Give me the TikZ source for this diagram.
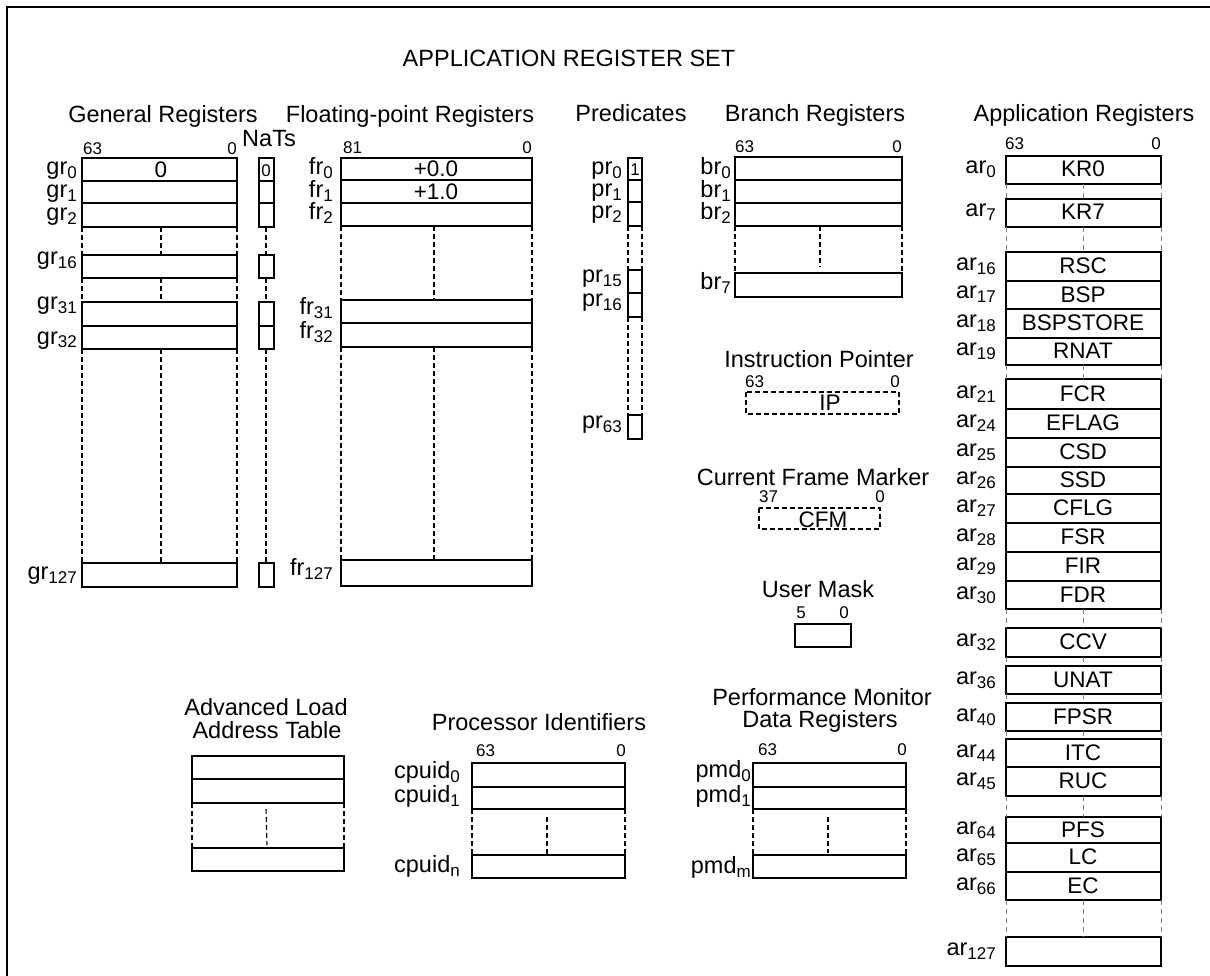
\documentclass[tikz,border=0pt]{standalone}
\usepackage{fontspec}
\setmainfont{Liberation Sans}
\newcommand\hdf{\fontsize{23.5}{25}\selectfont}
\newcommand\cf{\fontsize{22.5}{24}\selectfont}
\newcommand\smf{\fontsize{17}{18}\selectfont}
\newcommand\rg[2]{#1\raisebox{-4pt}{\smf #2}}
\begin{document}
\begin{tikzpicture}[x=1pt,y=-1pt,
  reg/.style={draw,line width=1.1pt},
  thk/.style={line width=2.2pt},
  dsh/.style={line width=1.1pt,dash pattern=on 5pt off 3pt},
  adsh/.style={line width=0.8pt,gray,dash pattern=on 5pt off 4pt},
  hd/.style={font=\hdf,anchor=base,inner sep=0pt},
  lbl/.style={font=\hdf,anchor=base east,inner sep=0pt},
  cnt/.style={font=\cf,anchor=base,inner sep=0pt},
  sm/.style={font=\smf,anchor=base,inner sep=0pt},
  bitl/.style={font=\smf,anchor=base west,inner sep=0pt},
  bitr/.style={font=\smf,anchor=base east,inner sep=0pt}]
\useasboundingbox (0,0) rectangle (1210,976);
\draw[line width=1.1pt] (7,976) -- (7,7) -- (1210,7);
\node[hd] (title) at (569,67) {APPLICATION REGISTER SET};

% ---------------- General registers
\node[hd] (tGR) at (163,123) {General Registers};
\node[hd] (tNaT) at (269,147) {NaTs};
\node[bitl] (gr63) at (83,155) {63};
\node[bitr] (gr00) at (237,155) {0};
\foreach \t/\b/\s/\yb in {158/181/0/175, 181/203/1/198, 203/227/2/221, 255/278/16/265, 302/326/31/309, 326/349/32/344, 563/587/127/579} {
  \draw[reg] (82,\t) rectangle (237,\b);
  \draw[reg] (259,\t) rectangle (274,\b);
  \node[lbl] (gr\s) at (77,\yb) {\rg{gr}{\s}};
}
\draw[thk] (82,326) -- (237,326);
\node[cnt] (gr0v) at (161,178) {0};
\node[sm] (nat0v) at (266,177) {0};
\foreach \x in {82,161,237,266} {
  \draw[dsh] (\x,227) -- (\x,255);
  \draw[dsh] (\x,278) -- (\x,302);
  \draw[dsh] (\x,349) -- (\x,563);
}

% ---------------- Floating-point registers
\node[hd] (tFR) at (410,123) {Floating-point Registers};
\node[bitl] (fr81) at (343,154) {81};
\node[bitr] (fr00) at (532,154) {0};
\foreach \t/\b/\s/\yb in {158/180/0/175, 180/203/1/198, 203/226/2/220, 300/323/31/315, 323/347/32/338, 560/586/127/575} {
  \draw[reg] (341,\t) rectangle (532,\b);
  \node[lbl] (fr\s) at (333,\yb) {\rg{fr}{\s}};
}
\node[cnt] (fr0v) at (436,177) {+0.0};
\node[cnt] (fr1v) at (436,200) {+1.0};
\foreach \x in {341,434,532} {
  \draw[dsh] (\x,226) -- (\x,300);
  \draw[dsh] (\x,347) -- (\x,560);
}

% ---------------- Predicates
\node[hd] (tPR) at (631,122) {Predicates};
\foreach \t/\b/\s/\yb in {158/180/0/175, 180/202/1/197, 202/226/2/219, 270/293/15/283, 293/317/16/307, 415/439/63/428} {
  \draw[reg] (628,\t) rectangle (642,\b);
  \node[lbl] (pr\s) at (622,\yb) {\rg{pr}{\s}};
}
\draw[thk] (628,293) -- (642,293);
\node[sm] (pr0v) at (635,176) {1};
\foreach \x in {628,642} {
  \draw[dsh] (\x,226) -- (\x,270);
  \draw[dsh] (\x,317) -- (\x,415);
}

% ---------------- Branch registers
\node[hd] (tBR) at (815,122) {Branch Registers};
\node[bitl] (br63) at (735,153) {63};
\node[bitr] (br00) at (902,153) {0};
\foreach \t/\b/\s/\yb in {157/180/0/175, 180/203/1/198, 203/226/2/220, 273/297/7/290} {
  \draw[reg] (735,\t) rectangle (902,\b);
  \node[lbl] (br\s) at (731,\yb) {\rg{br}{\s}};
}
\draw[dsh] (735,226) -- (735,273);
\draw[dsh] (902,226) -- (902,273);
\draw[dsh] (820,226) -- (820,267);

% ---------------- Instruction pointer, CFM, user mask
\node[hd] (tIP) at (819,367) {Instruction Pointer};
\node[bitl] (ip63) at (745,387) {63};
\node[bitr] (ip00) at (900,387) {0};
\draw[dsh] (746,392) rectangle (899,414);
\node[cnt] (ipv) at (830,410) {IP};

\node[hd] (tCFM) at (813,485) {Current Frame Marker};
\node[bitl] (cfm37) at (759,502) {37};
\node[bitr] (cfm00) at (885,502) {0};
\draw[dsh] (759,508) rectangle (880,529);
\node[cnt] (cfmv) at (823,527) {CFM};

\node[hd] (tUM) at (818,597) {User Mask};
\node[sm] (um5) at (801,618) {5};
\node[sm] (um0) at (844,618) {0};
\draw[reg] (795,624) rectangle (851,647);

% ---------------- Application registers
\node[hd] (tAR) at (1084,122) {Application Registers};
\node[bitl] (ar63) at (1005,150) {63};
\node[bitr] (ar00) at (1161,150) {0};
\foreach \t/\b/\s/\c in {156/184/0/KR0, 199/227/7/KR7, 252/281/16/RSC, 281/309/17/BSP, 309/338/18/BSPSTORE, 338/365/19/RNAT, 379/409/21/FCR, 409/438/24/EFLAG, 438/467/25/CSD, 467/494/26/SSD, 494/523/27/CFLG, 523/552/28/FSR, 552/581/29/FIR, 581/609/30/FDR, 628/657/32/CCV, 666/694/36/UNAT, 703/731/40/FPSR, 739/767/44/ITC, 767/796/45/RUC, 817/843/64/PFS, 843/872/65/LC, 872/900/66/EC, 937/966/127/} {
  \draw[reg] (1006,\t) rectangle (1161,\b);
  \node[lbl] (ar\s) at (996,{(\t+\b)/2+4}) {\rg{ar}{\s}};
  \node[cnt] (arv\s) at (1083,{(\t+\b)/2+7}) {\c};
}
\draw[thk] (1006,409) -- (1161,409);
\foreach \a/\b in {184/199, 227/252, 365/379, 609/628, 657/666, 694/703, 731/739, 796/817, 900/937} {
  \foreach \x in {1006,1083,1161} {
    \draw[adsh] (\x,\a) -- (\x,\b);
  }
}

% ---------------- ALAT
\node[hd] (tAL1) at (266,715) {Advanced Load};
\node[hd] (tAL2) at (267,738) {Address Table};
\foreach \t/\b in {756/779, 779/803, 848/871} {
  \draw[reg] (192,\t) rectangle (344,\b);
}
\draw[dsh] (192,803) -- (192,848);
\draw[dsh] (344,803) -- (344,848);
\draw[dsh] (266,809) -- (267,845);

% ---------------- Processor identifiers
\node[hd] (tPI) at (539,730) {Processor Identifiers};
\node[bitl] (cp63) at (476,756) {63};
\node[bitr] (cp00) at (626,756) {0};
\foreach \t/\b/\s/\yb in {763/787/0/778, 787/809/1/802, 855/878/n/872} {
  \draw[reg] (472,\t) rectangle (625,\b);
  \node[lbl] (cpuid\s) at (460,\yb) {\rg{cpuid}{\s}};
}
\draw[dsh] (472,809) -- (472,855);
\draw[dsh] (625,809) -- (625,855);
\draw[dsh] (547,817) -- (547,855);

% ---------------- Performance monitor data registers
\node[hd] (tPM1) at (822,705) {Performance Monitor};
\node[hd] (tPM2) at (820,727) {Data Registers};
\node[bitl] (pm63) at (758,755) {63};
\node[bitr] (pm00) at (907,755) {0};
\foreach \t/\b/\s/\yb in {763/787/0/777, 787/809/1/802, 855/878/m/873} {
  \draw[reg] (753,\t) rectangle (906,\b);
  \node[lbl] (pmd\s) at (751,\yb) {\rg{pmd}{\s}};
}
\draw[dsh] (753,809) -- (753,855);
\draw[dsh] (906,809) -- (906,855);
\draw[dsh] (828,817) -- (828,853);
\end{tikzpicture}
\end{document}
